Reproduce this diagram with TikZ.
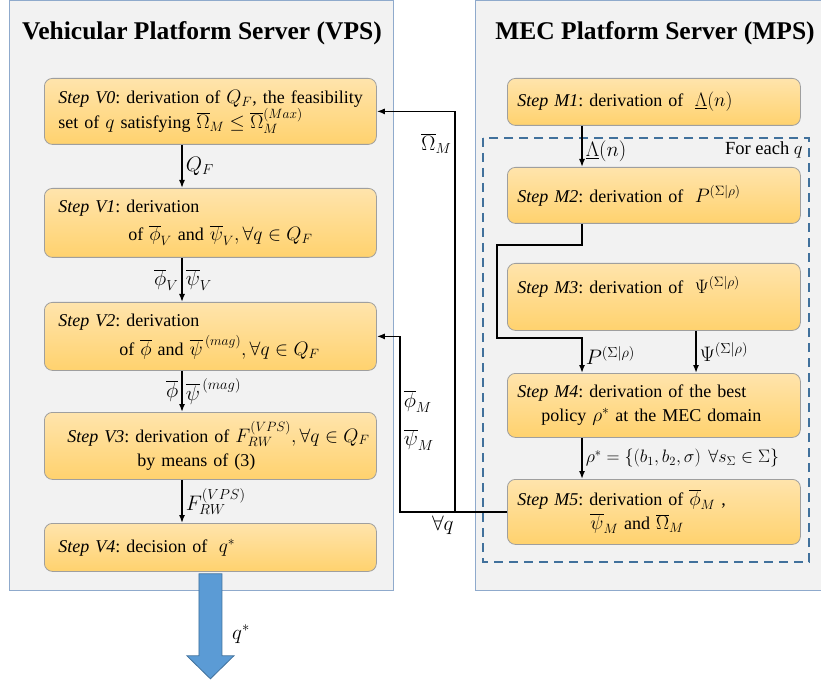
\RequirePackage{fix-cm}
\documentclass[tikz,border=0pt]{standalone}
\usepackage{fontspec}
\setmainfont{Liberation Serif}
\usetikzlibrary{arrows.meta}
\DeclareMathSizes{18}{19.5}{13.5}{10.5}
\DeclareMathSizes{19.5}{21}{14.5}{11}
\DeclareMathSizes{17.5}{18}{12.5}{9.5}
\frenchspacing

\definecolor{panelfill}{RGB}{242,242,242}
\definecolor{panelline}{RGB}{143,170,204}
\definecolor{boxtop}{RGB}{255,228,172}
\definecolor{boxbot}{RGB}{255,210,110}
\definecolor{loopline}{RGB}{65,113,156}
\definecolor{qarrow}{RGB}{91,155,213}

\tikzset{
	panel/.style={draw=panelline, fill=panelfill, line width=1pt},
	paneltitle/.style={font=\fontsize{25.5}{30}\selectfont\bfseries},
	stepbox/.style={draw=gray!75, rounded corners=8pt, top color=boxtop, bottom color=boxbot,
		anchor=north west, align=left, inner sep=0pt,
		font=\fontsize{18}{24}\selectfont},
	vpsbox/.style={stepbox, text width=332pt},
	mpsbox/.style={stepbox, text width=293pt},
	flow/.style={line width=1.5pt, -{Latex[length=8pt,width=6pt]}},
	lbl/.style={font=\fontsize{19.5}{23}\selectfont, inner sep=3pt},
}

\begin{document}
\begin{tikzpicture}[thick, x=1pt, y=-1pt]
	\useasboundingbox (0,0) rectangle (821,684);
	
	% panels
	\draw[panel] (9,1) rectangle (393,590);
	\draw[panel] (822,1) -- (475,1) -- (475,590) -- (822,590);
	\node[paneltitle] (vpstitle) at (202,33) {Vehicular Platform Server (VPS)};
	\node[paneltitle] (mpstitle) at (655,33) {MEC Platform Server (MPS)};
	
	% loop over q
	\draw[draw=loopline, line width=1.8pt, dash pattern=on 9pt off 6pt] (483,138) rectangle (809,562);
	\node[lbl, anchor=east, font=\fontsize{18.5}{22}\selectfont] (eachq) at (806,150) {For each $q$};
	
	% VPS steps
	\node[vpsbox, minimum height=66pt] (v0) at (44,78)
		{\mbox{\hspace*{14pt}\textit{Step V0}: derivation of $Q_F$, the feasibility}\\
		 \hspace*{14pt}set of $q$ satisfying $\overline{\Omega}_M \le \overline{\Omega}_M^{(Max)}$};
	\node[vpsbox, minimum height=69pt] (v1) at (44,188)
		{\hspace*{14pt}\textit{Step V1}: derivation\\[4pt]
		 \hspace*{84pt}of $\overline{\phi}_V$ and $\overline{\psi}_V ,\forall q\in Q_F$};
	\node[vpsbox, minimum height=68pt] (v2) at (44,302)
		{\hspace*{14pt}\textit{Step V2}: derivation\\[4pt]
		 \hspace*{75pt}of $\overline{\phi}$ and $\overline{\psi}^{\,(mag)},\forall q\in Q_F$};
	\node[vpsbox, minimum height=67pt] (v3) at (44,412)
		{\mbox{\hspace*{23pt}\textit{Step V3}: derivation of $F_{RW}^{(VPS)},\forall q\in Q_F$}\\
		 \hspace*{93pt}by means of (3)};
	\node[vpsbox, minimum height=48pt] (v4) at (44,523)
		{\hspace*{14pt}\textit{Step V4}: decision of $\;q^{*}$};
	
	% MPS steps
	\node[mpsbox, minimum height=47pt] (m1) at (507,78)
		{\hspace*{10pt}\textit{Step M1}: derivation of $\;\underline{\Lambda}(n)$};
	\node[mpsbox, minimum height=56pt] (m2) at (507,167)
		{\hspace*{10pt}\textit{Step M2}: derivation of $\;P^{(\Sigma|\rho)}$};
	\node[mpsbox, minimum height=67pt] (m3) at (507,263)
		{\hspace*{10pt}\textit{Step M3}: derivation of $\;\Psi^{(\Sigma|\rho)}$\\ \mbox{}};
	\node[mpsbox, minimum height=64pt] (m4) at (507,373)
		{\hspace*{10pt}\textit{Step M4}: derivation of the best\\
		 \hspace*{34pt}policy $\rho^{*}$ at the MEC domain};
	\node[mpsbox, minimum height=65pt] (m5) at (507,479)
		{\hspace*{10pt}\textit{Step M5}: derivation of $\overline{\phi}_M$ ,\\
		 \hspace*{83pt}$\overline{\psi}_M$ and $\overline{\Omega}_M$};
	
	% columns of the connectors
	\coordinate (vcol) at (182,0);
	\coordinate (mcol) at (582,0);
	\coordinate (ycol) at (696,0);
	\coordinate (fbA) at (400,0);
	\coordinate (fbB) at (455,0);
	\coordinate (bendA) at (497,245);
	\coordinate (bendB) at (497,338);
	
	% VPS flow
	\draw[flow] (v0.south -| vcol) -- node[lbl, right] {$Q_F$} (v1.north -| vcol);
	\draw[flow] (v1.south -| vcol) -- node[lbl, left] {$\overline{\phi}_V$}
		node[lbl, right] {$\overline{\psi}_V$} (v2.north -| vcol);
	\draw[flow] (v2.south -| vcol) -- node[lbl, left] {$\overline{\phi}$}
		node[lbl, right] {$\overline{\psi}^{\,(mag)}$} (v3.north -| vcol);
	\draw[flow] (v3.south -| vcol) -- node[lbl, right] {$F_{RW}^{(VPS)}$} (v4.north -| vcol);
	
	% MPS flow
	\draw[flow] (m1.south -| mcol) -- node[lbl, right, pos=0.62] {$\underline{\Lambda}(n)$} (m2.north -| mcol);
	\draw[flow] (m2.south -| mcol) -- (mcol |- bendA) -- (bendA) -- (bendB) -- (mcol |- bendB)
		-- node[lbl, right] {$P^{(\Sigma|\rho)}$} (m4.north -| mcol);
	\draw[flow] (m3.south -| ycol) -- node[lbl, right] {$\Psi^{(\Sigma|\rho)}$} (m4.north -| ycol);
	\draw[flow] (m4.south -| mcol) -- node[lbl, right, font=\fontsize{17.5}{20}\selectfont]
		{$\rho^{*}=\left\{\left(b_1,b_2,\sigma\right)\ \forall s_\Sigma\in\Sigma\right\}$} (m5.north -| mcol);
	
	% feedback to the VPS
	\draw[flow] (m5.west) -- node[lbl, pos=0.6, below] {$\forall q$} (fbA |- m5.west)
		-- node[lbl, pos=0.63, right] {$\overline{\phi}_M$}
		   node[lbl, pos=0.41, right] {$\overline{\psi}_M$} (fbA |- v2.east) -- (v2.east);
	\draw[flow] (fbB |- m5.west) -- node[lbl, pos=0.92, left] {$\overline{\Omega}_M$} (fbB |- v0.east) -- (v0.east);
	
	% output q*
	\draw[draw=loopline, fill=qarrow, line width=0.8pt] ([xshift=-11.5pt, yshift=-2pt]v4.south)
		-- ++(23,0) -- ++(0,82) -- ++(12,0) -- ++(-23.5,23) -- ++(-23.5,-23) -- ++(12,0) -- cycle;
	\node[lbl] (qstar) at (241,634) {$q^{*}$};
\end{tikzpicture}
\end{document}
